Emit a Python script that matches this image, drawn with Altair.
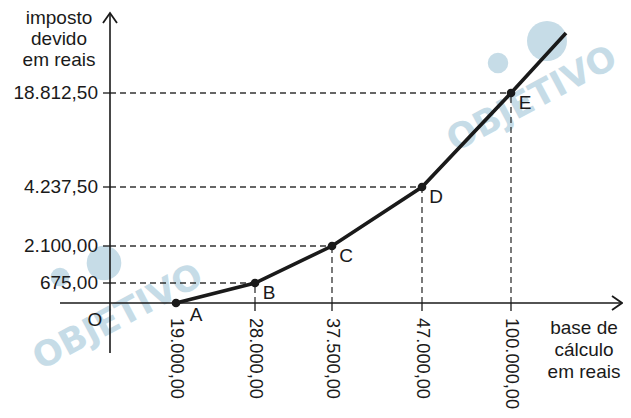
import altair as alt
import pandas as pd

# ---- data (schematic graph, not to scale) ----
point_names = ["A", "B", "C", "D", "E"]
base_labels = ["19.000,00", "28.000,00", "37.500,00", "47.000,00", "100.000,00"]
tax_labels = ["", "675,00", "2.100,00", "4.237,50", "18.812,50"]
# schematic positions of the points along the two axes (graph units)
x_pos = [6.6, 14.5, 22.2, 31.2, 40.1]
y_pos = [0.0, 2.0, 5.7, 11.6, 21.0]
# the curve keeps going past E
tail_x = [45.6]
tail_y = [27.0]

y_title = ["imposto", "devido", "em reais"]
x_title = ["base de", "cálculo", "em reais"]

FONT = "Liberation Sans"
INK = "#1a1a1a"
WM = "#c6dce7"

pts = pd.DataFrame({"name": point_names, "x": x_pos, "y": y_pos,
                    "xlab": base_labels, "ylab": tax_labels,
                    "i": list(range(len(x_pos)))})
curve = pd.DataFrame({"x": x_pos + tail_x, "y": y_pos + tail_y,
                      "i": list(range(len(x_pos) + len(tail_x)))})
above = pts[pts["y"] > 0]
one = pd.DataFrame({"k": [0]})

xs = alt.Scale(domain=[-10.2, 51.3], nice=False, zero=False)
ys = alt.Scale(domain=[-10.7, 29.5], nice=False, zero=False)


def X(f):
    return alt.X(f, type="quantitative", scale=xs, axis=None)


def Y(f):
    return alt.Y(f, type="quantitative", scale=ys, axis=None)


def C(df, **kw):
    ch = alt.Chart(df)
    if kw:
        ch = ch.transform_calculate(**{k: str(v) for k, v in kw.items()})
    return ch


# watermarks
wm_text = alt.Chart(pd.DataFrame({"x": [0.8, 42.2], "y": [-1.4, 20.4]})).mark_text(
    text="OBJETIVO", font="DejaVu Sans", fontWeight="bold", fontSize=35,
    angle=332, color=WM, align="center", baseline="middle"
).encode(x=X("x"), y=Y("y"))
wm_logo = alt.Chart(pd.DataFrame({"x": [-0.6, 43.7, -5.0, 38.8],
                                  "y": [4.0, 26.2, 2.6, 24.0],
                                  "s": [1200, 1600, 350, 420]})).mark_circle(
    color=WM, opacity=1
).encode(x=X("x"), y=Y("y"), size=alt.Size("s:Q", scale=None, legend=None))

dash = dict(strokeDash=[6, 4], strokeWidth=1.3, color="#333333")
hdash = C(above, x0=0).mark_rule(**dash).encode(
    x=X("x0"), x2=alt.X2("x"), y=Y("y"))
vdash = C(above, y0=0).mark_rule(**dash).encode(
    x=X("x"), y=Y("y0"), y2=alt.Y2("y"))
ytick = C(above, x0=-0.7, x1=0).mark_rule(strokeWidth=1.3, color=INK).encode(
    x=X("x0"), x2=alt.X2("x1"), y=Y("y"))
xtick = C(above, y0=-0.8, y1=0).mark_rule(strokeWidth=1.3, color=INK).encode(
    x=X("x"), y=Y("y0"), y2=alt.Y2("y1"))

xaxis = C(one, a=-5.0, b=51.1, c=0).mark_rule(strokeWidth=1.6, color=INK).encode(
    x=X("a"), x2=alt.X2("b"), y=Y("c"))
yaxis = C(one, a=-5.0, b=28.9, c=0).mark_rule(strokeWidth=1.6, color=INK).encode(
    x=X("c"), y=Y("a"), y2=alt.Y2("b"))
yarrow = C(one, a=0, b=29.0).mark_point(
    shape="M-0.7,1L0,0L0.7,1", size=400, filled=False, strokeWidth=1.8,
    color=INK, opacity=1
).encode(x=X("a"), y=Y("b"))
xarrow = C(one, a=51.2, b=0).mark_point(
    shape="M-1,-0.7L0,0L-1,0.7", size=400, filled=False, strokeWidth=1.8,
    color=INK, opacity=1
).encode(x=X("a"), y=Y("b"))

line = alt.Chart(curve).mark_line(color=INK, strokeWidth=3.6).encode(
    x=X("x"), y=Y("y"), order="i:Q")
dots = alt.Chart(pts).mark_circle(size=75, color=INK, opacity=1).encode(
    x=X("x"), y=Y("y"))

txt = dict(font=FONT, fontSize=19, color=INK)
plabA = alt.Chart(pts[pts["name"] == "A"]).mark_text(
    align="center", baseline="middle", dx=20, dy=12, **txt
).encode(x=X("x"), y=Y("y"), text="name:N")
plab = alt.Chart(pts[pts["name"] != "A"]).mark_text(
    align="center", baseline="middle", dx=14, dy=10, **txt
).encode(x=X("x"), y=Y("y"), text="name:N")

ylab = C(above, x0=0).mark_text(
    align="right", baseline="middle", dx=-12, dy=0, **txt
).encode(x=X("x0"), y=Y("y"), text="ylab:N")
xlab = C(pts, y0=-1.5).mark_text(
    align="left", baseline="middle", angle=90,
    font=FONT, fontSize=18.2, color=INK
).encode(x=X("x"), y=Y("y0"), text="xlab:N")
origin = C(one, a=0, b=0).mark_text(
    text="O", align="center", baseline="middle", dx=-15, dy=17, **txt
).encode(x=X("a"), y=Y("b"))

ytitle = C(one, a=-5.1, b=27.9).mark_text(
    text=y_title, align="center", baseline="alphabetic", lineHeight=21, **txt
).encode(x=X("a"), y=Y("b"))
xtitle = C(one, a=47.4, b=-3.1).mark_text(
    text=x_title, align="center", baseline="alphabetic", lineHeight=22, **txt
).encode(x=X("a"), y=Y("b"))

chart = alt.layer(
    wm_logo, wm_text, hdash, vdash, ytick, xtick, xaxis, yaxis, yarrow, xarrow,
    line, dots, plabA, plab, ylab, xlab, origin, ytitle, xtitle
).properties(
    width=615, height=402, padding=0,
    autosize=alt.AutoSizeParams(type="none"),
    background="white"
).configure_view(stroke=None)

chart.save("out.html", embed_options={"renderer": "svg", "actions": False})
